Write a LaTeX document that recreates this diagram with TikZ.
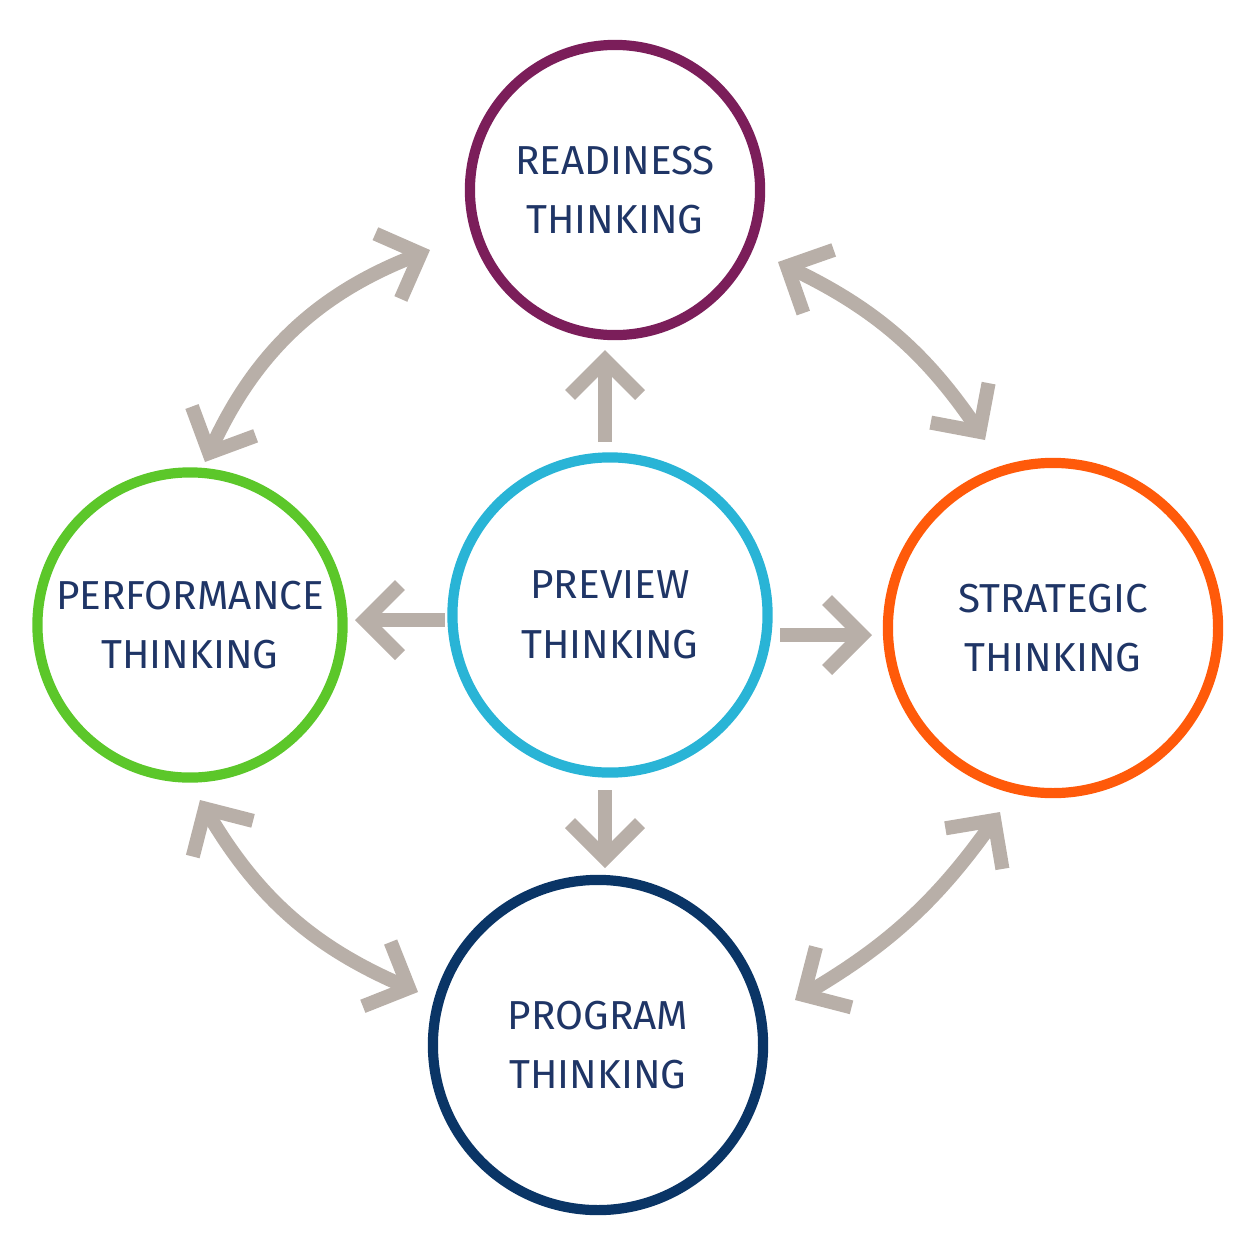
\documentclass[tikz,border=0pt]{standalone}
\usepackage{fontspec}
\setmainfont{Fira Sans}
\usetikzlibrary{positioning,arrows.meta}
\definecolor{ink}{HTML}{1F3566}
\definecolor{linkgray}{HTML}{B8AFA8}
\definecolor{cpurple}{HTML}{7B1E5A}
\definecolor{cgreen}{HTML}{5CC72A}
\definecolor{ccyan}{HTML}{29B4D6}
\definecolor{corange}{HTML}{FF5A0A}
\definecolor{cnavy}{HTML}{0A3566}
\begin{document}
\begin{tikzpicture}[x=0.01cm,y=-0.01cm,
        stage/.style={circle,line width=2.9pt,inner sep=0pt,text=ink,align=center,
            font=\fontsize{11.5}{17}\selectfont},
        link/.style={linkgray,line width=4pt,
            {Straight Barb[length=3.5mm,width=7mm]}-{Straight Barb[length=3.5mm,width=7mm]}},
        push/.style={linkgray,line width=4pt,
            -{Straight Barb[length=3.5mm,width=7mm]}}]
        \useasboundingbox (0,0) rectangle (1254,1254);

        \node [stage,draw=cpurple,minimum size=2.9cm] (ready) at (615,190) {READINESS\\THINKING};
        \node [stage,draw=cgreen,minimum size=3.05cm] (perf) at (190,625) {PERFORMANCE\\THINKING};
        \node [stage,draw=ccyan,minimum size=3.15cm] (prev) at (610,615) {PREVIEW\\THINKING};
        \node [stage,draw=corange,minimum size=3.3cm] (strat) at (1053,628) {STRATEGIC\\THINKING};
        \node [stage,draw=cnavy,minimum size=3.3cm] (prog) at (598,1045) {PROGRAM\\THINKING};

        \coordinate (rl) at (430,250);
        \coordinate (pu) at (205,462);
        \coordinate (rr) at (778,262);
        \coordinate (su) at (985,440);
        \coordinate (pd) at (200,800);
        \coordinate (gl) at (418,992);
        \coordinate (sd) at (1000,812);
        \coordinate (gr) at (795,1000);
        \coordinate (vu) at (605,442);
        \coordinate (ru) at (605,350);
        \coordinate (vl) at (445,620);
        \coordinate (pl) at (355,620);
        \coordinate (vr) at (780,635);
        \coordinate (sl) at (872,635);
        \coordinate (vd) at (605,790);
        \coordinate (gu) at (605,868);

        \draw [link] (rl) to [bend right=22] (pu);
        \draw [link] (rr) to [bend left=15] (su);
        \draw [link] (pd) to [bend right=18] (gl);
        \draw [link] (sd) to [bend left=12] (gr);

        \draw [push] (vu) -- (ru);
        \draw [push] (vl) -- (pl);
        \draw [push] (vr) -- (sl);
        \draw [push] (vd) -- (gu);
\end{tikzpicture}
\end{document}
